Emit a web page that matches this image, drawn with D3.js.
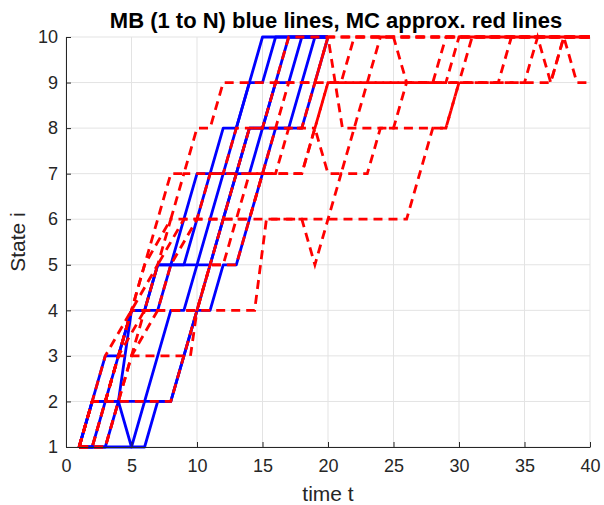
<!DOCTYPE html>
<html>
<head>
<meta charset="utf-8">
<script src="https://cdn.jsdelivr.net/npm/d3@7"></script>
<style>
  body { margin: 0; background: #fff; }
  svg { display: block; }
  text { font-family: Arial, "Liberation Sans", Helvetica, sans-serif; }
</style>
</head>
<body>
<svg id="chart" width="604" height="505"></svg>
<script>
// ---- data ----
const title = "MB (1 to N) blue lines, MC approx. red lines";
const xLabel = "time t";
const yLabel = "State i";
const xTicks = [0, 5, 10, 15, 20, 25, 30, 35, 40];
const yTicks = [1, 2, 3, 4, 5, 6, 7, 8, 9, 10];

// blue (MB) paths: state at t = 1, 2, 3, ...
const blue1 = [1,2,3,3,4,4,5,5,6,7,7,8,8,9,10,10,10,10,10,10];
const blue2 = [1,1,1,2,4,4,5,5,5,6,7,7,8,9,9,10,10,10,10,10];
const blue3 = [1,2,2,2,1,2,2,2,3,4,5,6,7,8,8,9,10,10,10,10];
const blue4 = [1,2,2,3,4,4,4,5,5,5,6,7,7,8,8,9,9,10,10,10];
const blue5 = [1,1,2,2,2,2,3,4,4,5,5,6,7,7,8,8,8,9,10,10];
const blue6 = [1,1,1,1,1,1,2,2,3,4,4,5,5,6,7,8,8,8,9,10];

// red (MC approx.) paths: [t, state] vertices
const red1 = [[1,1],[2,1],[3,2],[4,3],[5,4],[6,5],[7,6],[8,7],[9,7],[10,8],[11,8],[12,9],[16,9],[17,10],[40,10]];
const red2 = [[1,1],[3,1],[4,2],[8,2],[9,3],[10,4],[14.4,4],[15.3,6],[18,6],[19,5],[20,6],[21,7],[23,7],[24,8],[29,8],[30,9],[35,9],[36,10],[37,9],[38,10],[39,9],[40,9]];
const red3 = [[1,1],[2,2],[3,2],[4,3],[9.5,3],[10,4],[11,5],[12,6],[13,7],[14,8],[18,8],[19,9],[20,10],[21.1,8],[25,8],[26,9],[33,9],[34,10],[40,10]];
const red4 = [[1,1],[2,2],[3,3],[5,4],[7,5],[8,6],[13,6],[14,7],[18,7],[19,8],[20,7],[21,7],[22,8],[23,9],[24,10],[25,10],[26,9],[28,9],[29,10],[40,10]];
const red5 = [[1,1],[2,2],[3,2],[4,3],[6,4],[7,5],[9,6],[26,6],[27,7],[28,8],[29,8],[30,9],[31,10],[40,10]];
const red6 = [[1,1],[2,2],[4,2],[5,3],[7,4],[8,5],[10,6],[11,7],[12,7],[13,8],[15,8],[16,9],[19,9],[20,10],[40,10]];
const red7 = [[1,1],[3,1],[4,2],[5,3],[6,4],[10,4],[11,5],[13,5],[14,6],[15,7],[18,7],[19,8],[20,9],[37,9],[38,10],[40,10]];
const red8 = [[1,1],[2,2],[3,2],[4,3],[5,4],[6,5],[8,6],[9,7],[16,7],[17,8],[19,8],[20,9],[29,9],[30,10],[40,10]];
const red9 = [[1,1],[2,1],[3,2],[4,3],[5,4],[10,4],[11,5],[12,5],[13,6],[14,6],[15,7],[16,8],[17,9],[21,9],[22,10],[40,10]];

const bluePaths = [blue1, blue2, blue3, blue4, blue5, blue6];
const redPaths = [red1, red2, red3, red4, red5, red6, red7, red8, red9];

// ---- chart ----
const svg = d3.select("#chart");
const pL = 66, pR = 590, pT = 37, pB = 447;
const x = d3.scaleLinear().domain([0, 40]).range([pL, pR]);
const y = d3.scaleLinear().domain([1, 10]).range([pB, pT]);

// grid
const grid = svg.append("g");
grid.selectAll("line.gx").data(xTicks).join("line").attr("class", "gx")
  .attr("x1", d => x(d)).attr("x2", d => x(d))
  .attr("y1", pT).attr("y2", pB)
  .attr("stroke", "#e3e3e3").attr("stroke-width", 1);
grid.selectAll("line.gy").data(yTicks).join("line").attr("class", "gy")
  .attr("y1", d => y(d)).attr("y2", d => y(d))
  .attr("x1", pL).attr("x2", pR)
  .attr("stroke", "#e3e3e3").attr("stroke-width", 1);

const line = d3.line().x(d => x(d[0])).y(d => y(d[1]));

// blue paths
svg.append("g").selectAll("path").data(bluePaths).join("path")
  .attr("d", p => line(p.map((s, i) => [i + 1, s])))
  .attr("fill", "none").attr("stroke", "#0000ff")
  .attr("stroke-width", 2.8).attr("stroke-linejoin", "round");

// red dashed paths
svg.append("g").selectAll("path").data(redPaths).join("path")
  .attr("d", p => line(p))
  .attr("fill", "none").attr("stroke", "#ff0000")
  .attr("stroke-width", 2.8).attr("stroke-dasharray", "9,6");

// axes
const axisColor = "#262626";
const xAxis = svg.append("g").attr("transform", `translate(0,${pB})`)
  .call(d3.axisBottom(x).tickValues(xTicks).tickSizeInner(-5).tickSizeOuter(0).tickPadding(12));
const yAxis = svg.append("g").attr("transform", `translate(${pL},0)`)
  .call(d3.axisLeft(y).tickValues(yTicks).tickSizeInner(-5).tickSizeOuter(0).tickPadding(8));
[xAxis, yAxis].forEach(g => {
  g.selectAll("path").attr("stroke", axisColor).attr("stroke-width", 1);
  g.selectAll("line").attr("stroke", axisColor);
  g.selectAll("text").attr("fill", axisColor).attr("font-size", 18)
    .attr("font-family", "Arial, 'Liberation Sans', sans-serif");
});

// labels
svg.append("text").attr("x", (pL + pR) / 2 + 8).attr("y", 28)
  .attr("text-anchor", "middle").attr("font-size", 22).attr("font-weight", "bold")
  .attr("fill", "#000").text(title);
svg.append("text").attr("x", (pL + pR) / 2).attr("y", 501)
  .attr("text-anchor", "middle").attr("font-size", 21).attr("fill", axisColor).text(xLabel);
svg.append("text").attr("transform", `translate(25,${(pT + pB) / 2}) rotate(-90)`)
  .attr("text-anchor", "middle").attr("font-size", 21).attr("fill", axisColor).text(yLabel);
</script>
</body>
</html>
